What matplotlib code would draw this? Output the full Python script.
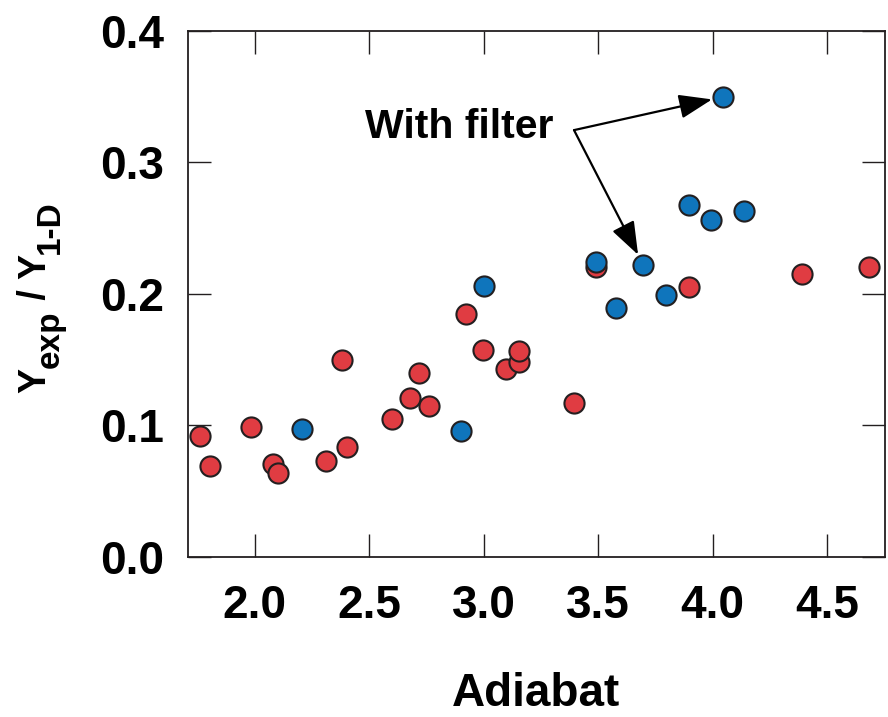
import matplotlib
matplotlib.use('Agg')
import matplotlib.pyplot as plt
from matplotlib.transforms import IdentityTransform

plt.rcParams['font.family'] = ['Liberation Sans', 'DejaVu Sans']
plt.rcParams['font.weight'] = 'bold'

# shots without the filter (red) and with it (blue)
red_x = [1.762, 1.806, 1.983, 2.082, 2.104, 2.311, 2.383, 2.405, 2.602, 2.679, 2.718,
         2.762, 2.922, 2.998, 3.097, 3.154, 3.154, 3.395, 3.493, 3.899, 4.392, 4.685]
red_y = [0.092, 0.069, 0.099, 0.071, 0.0635, 0.073, 0.150, 0.0836, 0.105, 0.1206, 0.140,
         0.115, 0.1845, 0.1576, 0.143, 0.148, 0.1568, 0.1168, 0.2202, 0.2054, 0.2152, 0.2205]
blue_x = [2.206, 2.900, 3.003, 3.490, 3.579, 3.697, 3.798, 3.899, 3.993, 4.045, 4.139]
blue_y = [0.0973, 0.0957, 0.2061, 0.2245, 0.189, 0.2223, 0.1989, 0.268, 0.2562, 0.3498, 0.263]

xticks = [2.0, 2.5, 3.0, 3.5, 4.0, 4.5]
yticks = [0.0, 0.1, 0.2, 0.3, 0.4]

RED = '#E03C42'
BLUE = '#0F75BC'
EDGE = '#231F20'

fig = plt.figure(figsize=(8.88, 7.17), dpi=100)
ax = fig.add_axes([0.2114, 0.2232, 0.7852, 0.7336])

ax.scatter(red_x, red_y, s=210, c=RED, edgecolors=EDGE, linewidths=1.5, zorder=3)
ax.scatter(blue_x, blue_y, s=210, c=BLUE, edgecolors=EDGE, linewidths=1.5, zorder=4)

ax.set_xlim(1.708, 4.753)
ax.set_ylim(0.0, 0.4)
ax.set_xticks(xticks)
ax.set_yticks(yticks)
ax.set_xticklabels([f'{v:.1f}' for v in xticks])
ax.set_yticklabels([f'{v:.1f}' for v in yticks])

for sp in ax.spines.values():
    sp.set_linewidth(1.3)
    sp.set_color(EDGE)
ax.tick_params(direction='in', length=16.5, width=1.0, color=EDGE,
               top=True, right=True, labelsize=33)
ax.tick_params(axis='x', pad=19.5)
ax.tick_params(axis='y', pad=17)

ax.set_xlabel('Adiabat', fontsize=33, fontweight='bold')
ax.xaxis.set_label_coords(0.5, -0.219)

# annotation pointing to two of the filtered shots
label_x, label_y = 3.395, 0.3246
ax.text(2.482, 0.3183, 'With filter', fontsize=29.5, fontweight='bold',
        ha='left', va='baseline')
for i in (9, 5):
    ax.annotate('', xy=(blue_x[i], blue_y[i]), xytext=(label_x, label_y),
                arrowprops=dict(arrowstyle='-|>,head_length=0.6,head_width=0.22',
                                mutation_scale=34, lw=1.6, color='black',
                                shrinkA=0, shrinkB=8), zorder=5)

# y label built piece by piece so the subscripts stay large
pieces = [('Y', 27, 0), ('exp', 24, 14), (' / ', 27, 0), ('Y', 27, 0), ('1-D', 24, 14)]
renderer = fig.canvas.get_renderer()
texts, lengths = [], []
for s, size, shift in pieces:
    t = fig.text(0, 0, s, fontsize=size, fontweight='bold', rotation=90,
                 rotation_mode='anchor', ha='left', va='baseline',
                 transform=IdentityTransform())
    texts.append(t)
    lengths.append(t.get_window_extent(renderer).height)
y = 420.5 - sum(lengths) / 2
for t, L, (s, size, shift) in zip(texts, lengths, pieces):
    t.set_position((45 + shift, y))
    y += L

fig.savefig('out.png', dpi=100)
